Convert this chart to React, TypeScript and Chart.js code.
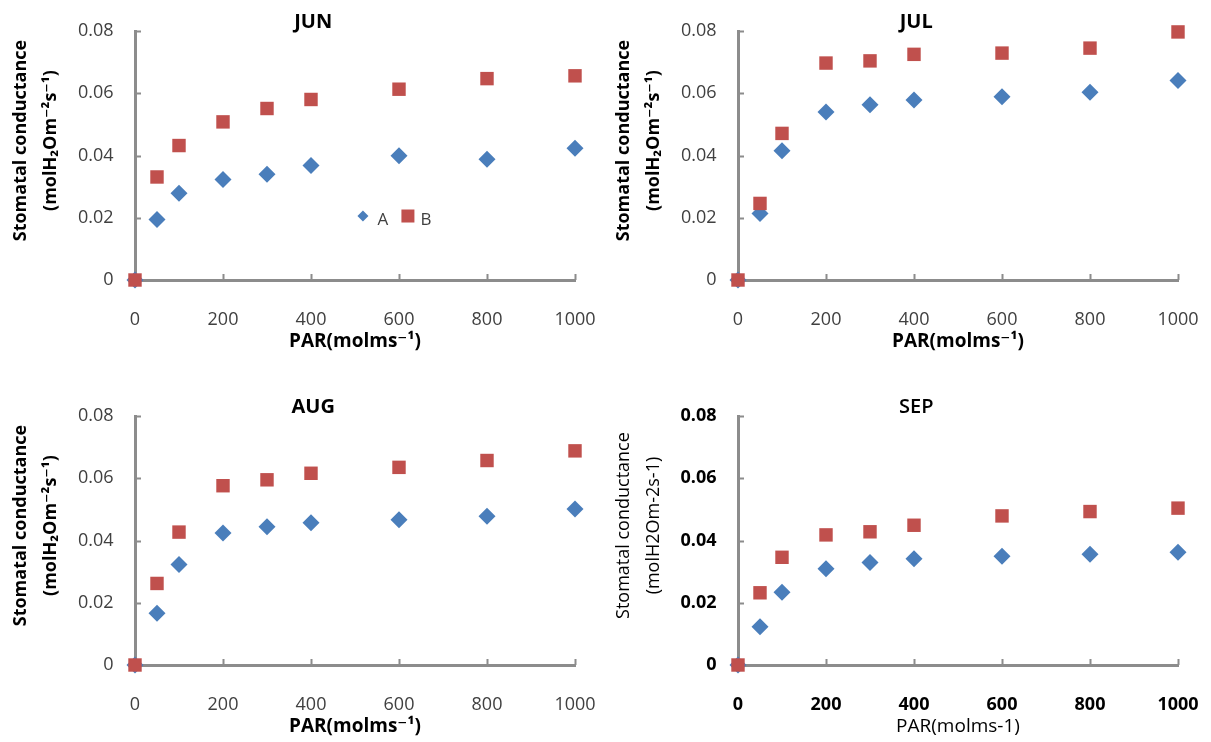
import React, { useEffect, useRef } from 'react';
import { Chart, registerables } from 'chart.js';

Chart.register(...registerables);

// ---- data ----
const parValues = [0, 50, 100, 200, 300, 400, 600, 800, 1000];
const xTickLabels = ['0', '200', '400', '600', '800', '1000'];
const yTickLabels = ['0', '0.02', '0.04', '0.06', '0.08'];
const seriesNames = ['A', 'B'];
const panelTitles = ['JUN', 'JUL', 'AUG', 'SEP'];

const junA = [0, 0.0194, 0.0279, 0.0323, 0.034, 0.0368, 0.0399, 0.0388, 0.0423];
const junB = [0, 0.0331, 0.0432, 0.0508, 0.0551, 0.058, 0.0613, 0.0647, 0.0656];
const julA = [0, 0.0214, 0.0415, 0.054, 0.0563, 0.0578, 0.0589, 0.0603, 0.0641];
const julB = [0, 0.0246, 0.0471, 0.0697, 0.0704, 0.0725, 0.0729, 0.0745, 0.0797];
const augA = [0, 0.0166, 0.0323, 0.0424, 0.0444, 0.0457, 0.0467, 0.0478, 0.0501];
const augB = [0, 0.0262, 0.0427, 0.0576, 0.0595, 0.0616, 0.0635, 0.0657, 0.0688];
const sepA = [0, 0.0123, 0.0234, 0.0309, 0.0329, 0.0341, 0.0349, 0.0356, 0.0362];
const sepB = [0, 0.0232, 0.0346, 0.0418, 0.0428, 0.0449, 0.0479, 0.0493, 0.0504];

const yTitleLine1 = 'Stomatal conductance';
const yTitleLine2Sup = '(molH\u2082Om\u207B\u00B2s\u207B\u00B9)';
const yTitleLine2Plain = '(molH2Om-2s-1)';
const xTitleSup = 'PAR(molms\u207B\u00B9)';
const xTitlePlain = 'PAR(molms-1)';

// ---- styles ----
const BLUE = '#4A7EBB';
const RED = '#C0504D';
const AXIS = '#8C8C8C';
const FONT = "'Open Sans', 'DejaVu Sans', sans-serif";
const W = 605;
const H = 356;

type Panel = {
  title: string;
  a: number[];
  b: number[];
  left: number;
  top: number;
  yLine2: string;
  xTitle: string;
  sep: boolean;
  legend: boolean;
};

const panels: Panel[] = [
  { title: panelTitles[0], a: junA, b: junB, left: 0, top: 0, yLine2: yTitleLine2Sup, xTitle: xTitleSup, sep: false, legend: true },
  { title: panelTitles[1], a: julA, b: julB, left: 603, top: 0, yLine2: yTitleLine2Sup, xTitle: xTitleSup, sep: false, legend: false },
  { title: panelTitles[2], a: augA, b: augB, left: 0, top: 385, yLine2: yTitleLine2Sup, xTitle: xTitleSup, sep: false, legend: false },
  { title: panelTitles[3], a: sepA, b: sepB, left: 603, top: 385, yLine2: yTitleLine2Plain, xTitle: xTitlePlain, sep: true, legend: false },
];

function makeDecor(p: Panel) {
  return {
    id: 'decor',
    beforeDatasetsDraw(chart: any) {
      const ctx = chart.ctx;
      const xs = chart.scales.x;
      const ys = chart.scales.y;
      ctx.save();
      ctx.strokeStyle = AXIS;
      ctx.lineWidth = 2;
      ctx.beginPath();
      xs.ticks.forEach((t: any) => {
        if (t.value === 0) return;
        const px = Math.round(xs.getPixelForValue(t.value)) + 0.5;
        ctx.moveTo(px, ys.bottom);
        ctx.lineTo(px, ys.bottom - 6);
      });
      ys.ticks.forEach((t: any) => {
        if (t.value === 0) return;
        const py = Math.round(ys.getPixelForValue(t.value)) + 0.5;
        ctx.moveTo(xs.left, py);
        ctx.lineTo(xs.left + 6, py);
      });
      ctx.stroke();
      ctx.restore();
    },
    afterDraw(chart: any) {
      const ctx = chart.ctx;
      const ca = chart.chartArea;
      const w = ca.right - ca.left;
      const h = ca.bottom - ca.top;
      ctx.save();
      ctx.fillStyle = '#000';
      ctx.textAlign = 'center';
      ctx.textBaseline = 'middle';
      // panel title
      ctx.font = `${p.sep ? '600' : 'bold'} 20px ${FONT}`;
      ctx.fillText(p.title, ca.left + 0.405 * w, ca.top - 9);
      // y-axis title (two lines, rotated)
      const cy = ca.top + 0.44 * h;
      ctx.font = `${p.sep ? 'normal' : 'bold'} 18px ${FONT}`;
      ctx.save();
      ctx.translate(20.5, cy);
      ctx.rotate(-Math.PI / 2);
      ctx.fillText(yTitleLine1, 0, 0);
      ctx.restore();
      ctx.save();
      ctx.translate(51, cy);
      ctx.rotate(-Math.PI / 2);
      ctx.fillText(p.yLine2, 0, 0);
      ctx.restore();
      // legend
      if (p.legend) {
        const lx = ca.left + 0.518 * w;
        const ly = ca.top + 0.743 * h;
        ctx.fillStyle = BLUE;
        ctx.beginPath();
        ctx.moveTo(lx, ly - 5.5);
        ctx.lineTo(lx + 5.5, ly);
        ctx.lineTo(lx, ly + 5.5);
        ctx.lineTo(lx - 5.5, ly);
        ctx.closePath();
        ctx.fill();
        const sx = lx + 45;
        ctx.fillStyle = RED;
        ctx.fillRect(sx - 6.5, ly - 6.5, 13, 13);
        ctx.fillStyle = '#404040';
        ctx.font = `normal 17px ${FONT}`;
        ctx.fillText(seriesNames[0], lx + 20, ly + 4);
        ctx.fillText(seriesNames[1], sx + 18, ly + 4);
      }
      ctx.restore();
    },
  };
}

function PanelChart({ p }: { p: Panel }) {
  const ref = useRef<HTMLCanvasElement | null>(null);
  useEffect(() => {
    if (!ref.current) return;
    const tickColor = p.sep ? '#000' : '#404040';
    const tickWeight = p.sep ? 'bold' : 'normal';
    const chart = new Chart(ref.current, {
      type: 'scatter',
      data: {
        datasets: [
          {
            label: seriesNames[0],
            data: parValues.map((x, i) => ({ x, y: p.a[i] })),
            pointStyle: 'rectRot',
            pointRadius: 8.5,
            pointHoverRadius: 8.5,
            backgroundColor: BLUE,
            borderColor: BLUE,
            borderWidth: 0,
            order: 1,
            clip: false,
          } as any,
          {
            label: seriesNames[1],
            data: parValues.map((x, i) => ({ x, y: p.b[i] })),
            pointStyle: 'rect',
            pointRadius: 9.5,
            pointHoverRadius: 9.5,
            backgroundColor: RED,
            borderColor: RED,
            borderWidth: 0,
            order: 0,
            clip: false,
          } as any,
        ],
      },
      options: {
        responsive: false,
        animation: false,
        events: [],
        layout: { padding: { top: 31, right: 30, left: 0, bottom: 0 } },
        plugins: {
          legend: { display: false },
          tooltip: { enabled: false },
          title: { display: false },
        },
        scales: {
          x: {
            type: 'linear',
            position: 'bottom',
            min: 0,
            max: 1000,
            ticks: {
              stepSize: 200,
              padding: 29,
              color: tickColor,
              font: { family: FONT, size: 18, weight: tickWeight as any },
              maxRotation: 0,
              callback: (v: any, i: number) => xTickLabels[i] ?? String(v),
            },
            grid: { display: false, drawTicks: false },
            border: { display: true, color: AXIS, width: 3 },
            title: {
              display: true,
              text: p.xTitle,
              color: '#000',
              font: { family: FONT, size: 19, weight: (p.sep ? 'normal' : 'bold') as any },
              padding: { top: 0, bottom: 3 },
            },
            afterFit: (s: any) => {
              s.height = 76;
              s.paddingLeft = 0;
              s.paddingRight = 0;
            },
          },
          y: {
            type: 'linear',
            min: 0,
            max: 0.08,
            ticks: {
              stepSize: 0.02,
              padding: 21.5,
              color: tickColor,
              font: { family: FONT, size: 18, weight: tickWeight as any },
              callback: (v: any, i: number) => yTickLabels[i] ?? String(v),
            },
            grid: { display: false, drawTicks: false },
            border: { display: true, color: AXIS, width: 3 },
            afterFit: (s: any) => {
              s.width = 135;
              s.paddingTop = 0;
              s.paddingBottom = 0;
            },
          },
        },
      } as any,
      plugins: [makeDecor(p)],
    });
    return () => chart.destroy();
  }, [p]);
  return (
    <canvas
      ref={ref}
      width={W}
      height={H}
      style={{ position: 'absolute', left: p.left, top: p.top, width: W, height: H }}
    />
  );
}

export default function App() {
  return (
    <div
      style={{
        position: 'fixed',
        left: 0,
        top: 0,
        width: 1211,
        height: 742,
        overflow: 'hidden',
        background: '#fff',
      }}
    >
      {panels.map((p) => (
        <PanelChart key={p.title} p={p} />
      ))}
    </div>
  );
}
